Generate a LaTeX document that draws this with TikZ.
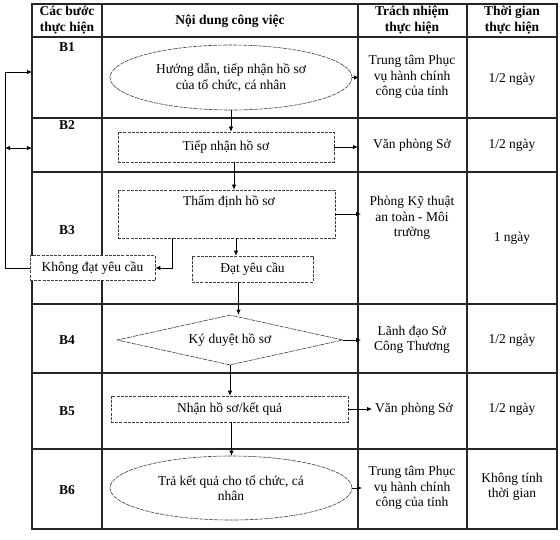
\documentclass[tikz,border=0pt]{standalone}
\usepackage{fontspec}
\setmainfont{Liberation Serif}
\usetikzlibrary{arrows.meta,shapes.geometric}
\begin{document}
\begin{tikzpicture}[x=1pt,y=-1pt,
  every node/.style={font=\fontsize{13.5}{15.5}\selectfont, align=center, inner sep=0pt},
  hdr/.style={font=\fontsize{13.5}{15.5}\selectfont\bfseries},
  grid/.style={line width=1.1pt, black!85},
  dbox/.style={draw=black!75, line width=0.6pt, dash pattern=on 3pt off 1.2pt, rectangle},
  dell/.style={draw=black!75, line width=0.6pt, dash pattern=on 4pt off 1pt, ellipse},
  ddia/.style={draw=black!75, line width=0.6pt, dash pattern=on 5pt off 1pt, diamond},
  arr/.style={line width=0.8pt, -{Latex[length=5pt,width=4.5pt]}},
  darr/.style={line width=0.8pt, {Latex[length=5pt,width=4.5pt]}-{Latex[length=5pt,width=4.5pt]}}
]
\useasboundingbox (0,0) rectangle (560,539);
% table grid
\draw[grid] (32,4) rectangle (557,529);
\foreach \yy in {37,118,172,304,373,449} \draw[grid] (32,\yy) -- (557,\yy);
\foreach \xx in {102,358,467} \draw[grid] (\xx,4) -- (\xx,529);
% headers
\node[hdr] (h1) at (67,20) {Các bước\\thực hiện};
\node[hdr] (h2) at (230,21) {Nội dung công việc};
\node[hdr] (h3) at (412,20) {Trách nhiệm\\thực hiện};
\node[hdr] (h4) at (512,20) {Thời gian\\thực hiện};
% step labels
\node[hdr] (b1) at (67,47) {B1};
\node[hdr] (b2) at (67,125) {B2};
\node[hdr] (b3) at (67,230) {B3};
\node[hdr] (b4) at (67,340) {B4};
\node[hdr] (b5) at (67,411) {B5};
\node[hdr] (b6) at (67,490) {B6};
% flow shapes
\node[dell, minimum width=242pt, minimum height=65pt] (e1) at (231,77.5) {Hướng dẫn, tiếp nhận hồ sơ\\của tổ chức, cá nhân};
\node[dbox, minimum width=216pt, minimum height=30pt] (s2) at (226,147) {Tiếp nhận hồ sơ};
\node[dbox, minimum width=217pt, minimum height=48pt] (s3) at (226.5,214) {};
\node (s3t) at (229,202) {Thẩm định hồ sơ};
\node[dbox, fill=white, minimum width=125pt, minimum height=25pt] (nd) at (92.5,268) {Không đạt yêu cầu};
\node[dbox, minimum width=121pt, minimum height=26pt] (dat) at (252.5,269) {Đạt yêu cầu};
\node[ddia, aspect=4.5, minimum width=226pt, minimum height=50pt] (d4) at (230,340) {Ký duyệt hồ sơ};
\node[dbox, minimum width=237pt, minimum height=26pt] (s5) at (229.5,409) {Nhận hồ sơ/kết quả};
\node[dell, minimum width=242pt, minimum height=64pt] (e6) at (231,488) {Trả kết quả cho tổ chức, cá\\nhân};
% responsibility column
\node (t1) at (412,77) {Trung tâm Phục\\vụ hành chính\\công của tỉnh};
\node (t2) at (412,145) {Văn phòng Sở};
\node (t3) at (412,218) {Phòng Kỹ thuật\\an toàn - Môi\\trường};
\node (t4) at (412,340) {Lãnh đạo Sở\\Công Thương};
\node (t5) at (414,409) {Văn phòng Sở};
\node (t6) at (412,488) {Trung tâm Phục\\vụ hành chính\\công của tỉnh};
% time column
\node (m1) at (512,79) {1/2 ngày};
\node (m2) at (512,145) {1/2 ngày};
\node (m3) at (512,238) {1 ngày};
\node (m4) at (512,340) {1/2 ngày};
\node (m5) at (512,409) {1/2 ngày};
\node (m6) at (512,487) {Không tính\\thời gian};
% coordinates for free ends
\coordinate (r1) at (359,77.5);
\coordinate (r2) at (358,147);
\coordinate (r3) at (361,214);
\coordinate (r4) at (361,340);
\coordinate (r5) at (372,409);
\coordinate (r6) at (362,488);
\coordinate (lp) at (5,72);
\coordinate (tl) at (32,72);
\coordinate (da1) at (5,148);
\coordinate (da2) at (32,148);
\coordinate (sp) at (172,238);
% connectors
\draw[arr] (e1.east) -- (r1);
\draw[arr] (e1.south) -- (e1.south |- s2.north);
\draw[arr] (s2.east) -- (r2);
\draw[arr] ([xshift=8pt]s2.south) -- ([xshift=8pt]s2.south |- s3.north);
\draw[arr] (s3.east) -- (r3);
\draw[arr] (sp) |- (nd.east);
\draw[arr] ([xshift=9.5pt]s3.south) -- ([xshift=9.5pt]s3.south |- dat.north);
\draw[arr] ([xshift=-14pt]dat.south) -- ([xshift=-14pt]dat.south |- d4.north);
\draw[arr] (d4.east) -- (r4);
\draw[arr] (d4.south) -- (d4.south |- s5.north);
\draw[arr] (s5.east) -- (r5);
\draw[arr] ([xshift=2pt]s5.south) -- ([xshift=2pt]s5.south |- e6.north);
\draw[arr] (e6.east) -- (r6);
\draw[arr] (nd.west) -| (lp) -- (tl);
\draw[darr] (da1) -- (da2);
\end{tikzpicture}
\end{document}
